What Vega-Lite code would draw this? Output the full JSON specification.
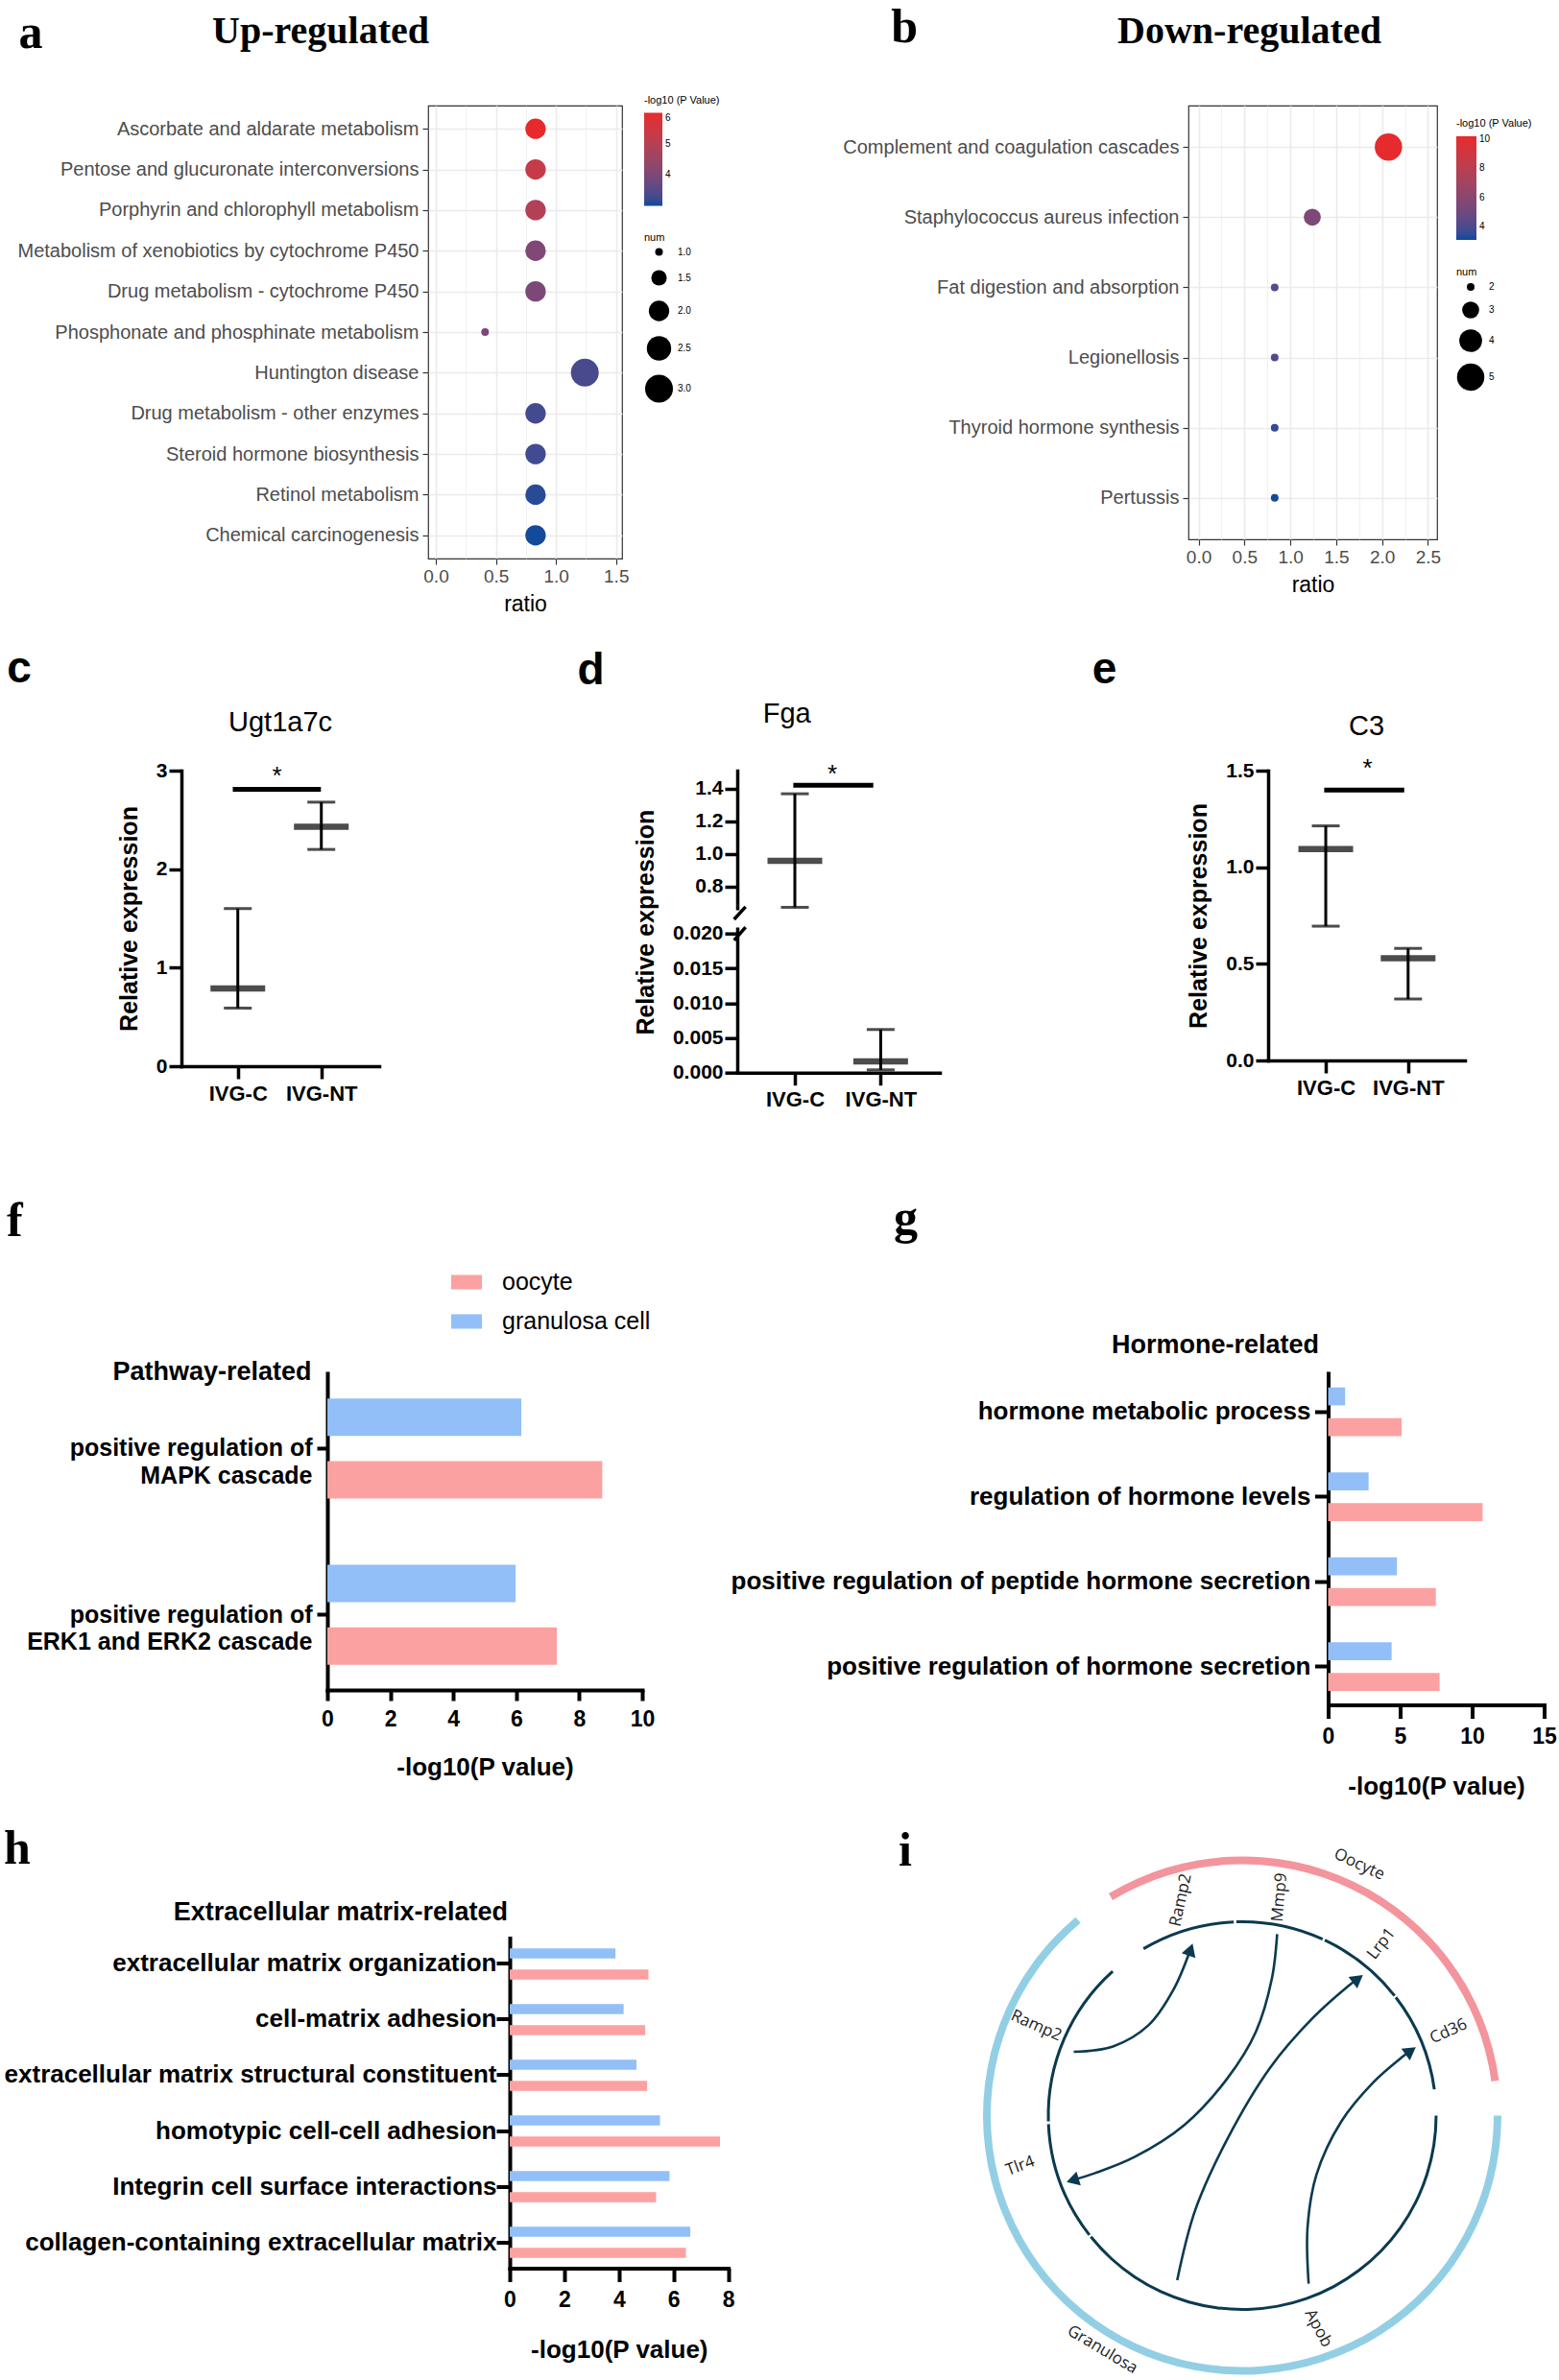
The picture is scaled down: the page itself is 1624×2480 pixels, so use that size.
{
"$schema":"https://vega.github.io/schema/vega-lite/v6.json",
"background":"white",
"padding":{"left":0,"top":4,"right":2,"bottom":0},
"config":{
 "font":"Liberation Sans",
 "view":{"stroke":null},
 "axis":{"domainColor":"black","domainWidth":3.5,"domainCap":"square","tickColor":"black","tickWidth":3.5,"tickSize":13,"labelColor":"black","labelFont":"Liberation Sans","labelFontWeight":"bold","labelFontSize":21,"labelPadding":3,"labelFlush":false,"labelOverlap":false,"labelLimit":1000,"titleColor":"black","titleFont":"Liberation Sans","titleFontWeight":"bold","titleFontSize":25,"grid":false},
 "title":{"color":"black","font":"Liberation Sans","fontWeight":"normal"},
 "legend":{"labelFont":"Liberation Sans","titleFont":"Liberation Sans","labelColor":"black","titleColor":"black","labelLimit":1000}
},
"resolve":{"scale":{"color":"independent","size":"independent","yOffset":"independent","theta":"independent","radius":"independent","angle":"independent"},"legend":{"color":"independent","size":"independent"}},
"spacing":88,
"align":"none",
"vconcat":[
{"spacing":32,"align":"none",
 "resolve":{"scale":{"color":"independent","size":"independent","yOffset":"independent","theta":"independent","radius":"independent","angle":"independent"},"legend":{"color":"independent","size":"independent"}},
 "vconcat":[
 {"spacing":0,"resolve":{"scale":{"color":"independent","size":"independent"},"legend":{"color":"independent","size":"independent"}},
  "hconcat":[
  {"width":17,"height":1,"data":{"values":[{}]},"mark":{"type":"point","opacity":0,"size":0,"strokeWidth":0}},
  {"spacing":127,"resolve":{"scale":{"color":"independent","size":"independent"},"legend":{"color":"independent","size":"independent"}},
   "hconcat":[
  {"title":{"text":"a","font":"Liberation Serif","fontSize":50,"fontWeight":"bold","anchor":"start","frame":"bounds","dx":2,"dy":48,"offset":0},
   "vconcat":[
   {"width":202,"height":472,"view":{"stroke":"#333333","strokeWidth":1.2},
    "title":{"text":"Up-regulated","font":"Liberation Serif","fontSize":40,"fontWeight":"bold","frame":"group","anchor":"middle","dx":-213,"offset":57},
    "data":{"values":[
     {"term":"Ascorbate and aldarate metabolism","ratio":0.83,"num":2,"logp":6.0},
     {"term":"Pentose and glucuronate interconversions","ratio":0.83,"num":2,"logp":5.3},
     {"term":"Porphyrin and chlorophyll metabolism","ratio":0.83,"num":2,"logp":4.95},
     {"term":"Metabolism of xenobiotics by cytochrome P450","ratio":0.83,"num":2,"logp":4.05},
     {"term":"Drug metabolism - cytochrome P450","ratio":0.83,"num":2,"logp":4.0},
     {"term":"Phosphonate and phosphinate metabolism","ratio":0.41,"num":1,"logp":3.95},
     {"term":"Huntington disease","ratio":1.24,"num":3,"logp":3.35},
     {"term":"Drug metabolism - other enzymes","ratio":0.83,"num":2,"logp":3.3},
     {"term":"Steroid hormone biosynthesis","ratio":0.83,"num":2,"logp":3.28},
     {"term":"Retinol metabolism","ratio":0.83,"num":2,"logp":3.1},
     {"term":"Chemical carcinogenesis","ratio":0.83,"num":2,"logp":3.02}
    ]},
    "mark":{"type":"circle","opacity":1},
    "encoding":{
     "x":{"field":"ratio","type":"quantitative","scale":{"domain":[-0.064,1.55],"nice":false,"zero":false},
      "axis":{"values":[0,0.25,0.5,0.75,1,1.25,1.5],"tickCount":20,"labelExpr":"datum.value % 0.5 == 0 ? format(datum.value, '.1f') : ''","domain":false,"grid":true,"gridColor":"#ebebeb","gridWidth":{"condition":{"test":"datum.value % 0.5 == 0","value":1.6},"value":0.7},"tickColor":"#333333","tickWidth":{"condition":{"test":"datum.value % 0.5 == 0","value":1.2},"value":0},"tickSize":6,"labelColor":"#4d4d4d","labelFontWeight":"normal","labelFontSize":19,"labelPadding":3,"title":"ratio","titleFontWeight":"normal","titleFontSize":23,"titlePadding":8}},
     "y":{"field":"term","type":"nominal","sort":null,"scale":{"type":"point","padding":0.57},
      "axis":{"domain":false,"grid":true,"gridColor":"#ebebeb","gridWidth":1.6,"tickColor":"#333333","tickWidth":1.2,"tickSize":6,"labelColor":"#4d4d4d","labelFontWeight":"normal","labelFontSize":20,"labelPadding":4,"title":null}},
     "color":{"field":"logp","type":"quantitative","scale":{"domain":[3,6],"range":["#0b4a9b","#e8292c"],"interpolate":"lab"},
      "legend":{"title":"-log10 (P Value)","orient":"none","legendX":225,"legendY":-11.5,"direction":"vertical","values":[4,5,6],"gradientLength":97,"gradientThickness":19,"gradientStrokeWidth":0,"titleFontSize":11,"titleFontWeight":"normal","labelFontSize":10,"titlePadding":8,"labelOffset":3}},
     "size":{"field":"num","type":"quantitative","scale":{"domain":[1,3],"range":[64,841]},
      "legend":{"title":"num","orient":"none","legendX":225,"legendY":131.5,"values":[1,1.5,2,2.5,3],"format":".1f","titleFontSize":11,"titleFontWeight":"normal","labelFontSize":10,"rowPadding":8,
       "encode":{"symbols":{"update":{"size":{"signal":"pow(3 + 9.5*sqrt((datum.value-1)/2), 2)"},"fill":{"value":"black"},"opacity":{"value":1},"strokeWidth":{"value":0}}}}}}
    }}
  ]},
  {"title":{"text":"b","font":"Liberation Serif","fontSize":50,"fontWeight":"bold","anchor":"start","frame":"bounds","dx":51,"dy":42,"offset":0},
   "vconcat":[
   {"width":259,"height":452,"view":{"stroke":"#333333","strokeWidth":1.2},
    "title":{"text":"Down-regulated","font":"Liberation Serif","fontSize":40,"fontWeight":"bold","frame":"group","anchor":"middle","dx":-66,"offset":57},
    "data":{"values":[
     {"term":"Complement and coagulation cascades","ratio":2.07,"num":5,"logp":10.1},
     {"term":"Staphylococcus aureus infection","ratio":1.24,"num":3,"logp":5.5},
     {"term":"Fat digestion and absorption","ratio":0.83,"num":2,"logp":4.3},
     {"term":"Legionellosis","ratio":0.83,"num":2,"logp":4.1},
     {"term":"Thyroid hormone synthesis","ratio":0.83,"num":2,"logp":3.5},
     {"term":"Pertussis","ratio":0.83,"num":2,"logp":3.15}
    ]},
    "mark":{"type":"circle","opacity":1},
    "encoding":{
     "x":{"field":"ratio","type":"quantitative","scale":{"domain":[-0.11,2.6],"nice":false,"zero":false},
      "axis":{"values":[0,0.25,0.5,0.75,1,1.25,1.5,1.75,2,2.25,2.5],"tickCount":20,"labelExpr":"datum.value % 0.5 == 0 ? format(datum.value, '.1f') : ''","domain":false,"grid":true,"gridColor":"#ebebeb","gridWidth":{"condition":{"test":"datum.value % 0.5 == 0","value":1.6},"value":0.7},"tickColor":"#333333","tickWidth":{"condition":{"test":"datum.value % 0.5 == 0","value":1.2},"value":0},"tickSize":6,"labelColor":"#4d4d4d","labelFontWeight":"normal","labelFontSize":19,"labelPadding":3,"title":"ratio","titleFontWeight":"normal","titleFontSize":23,"titlePadding":8}},
     "y":{"field":"term","type":"nominal","sort":null,"scale":{"type":"point","padding":0.59},
      "axis":{"domain":false,"grid":true,"gridColor":"#ebebeb","gridWidth":1.6,"tickColor":"#333333","tickWidth":1.2,"tickSize":6,"labelColor":"#4d4d4d","labelFontWeight":"normal","labelFontSize":20,"labelPadding":4,"title":null}},
     "color":{"field":"logp","type":"quantitative","scale":{"domain":[3.1,10.2],"range":["#0b4a9b","#e8292c"],"interpolate":"lab"},
      "legend":{"title":"-log10 (P Value)","orient":"none","legendX":279,"legendY":13,"direction":"vertical","values":[4,6,8,10],"gradientLength":108,"gradientThickness":21,"gradientStrokeWidth":0,"titleFontSize":11,"titleFontWeight":"normal","labelFontSize":10,"titlePadding":8,"labelOffset":3}},
     "size":{"field":"num","type":"quantitative","scale":{"domain":[2,5],"range":[64,812]},
      "legend":{"title":"num","orient":"none","legendX":279,"legendY":168,"values":[2,3,4,5],"format":"d","titleFontSize":11,"titleFontWeight":"normal","labelFontSize":10,"rowPadding":5,
       "encode":{"symbols":{"update":{"size":{"signal":"pow(5 + 13*sqrt((datum.value-2)/3), 2)"},"fill":{"value":"black"},"opacity":{"value":1},"strokeWidth":{"value":0}}}}}}
    }}
  ]}
 ]}]},
 {"spacing":0,"hconcat":[
  {"width":6.24,"height":1,"data":{"values":[{}]},"mark":{"type":"point","opacity":0,"size":0,"strokeWidth":0}},
  {"spacing":206,"hconcat":[
  {"title":{"text":"c","font":"Liberation Sans Narrow, Liberation Sans","fontSize":46,"fontWeight":"bold","anchor":"start","frame":"bounds","dx":-115,"dy":-18,"offset":0},
   "vconcat":[
   {"width":206,"height":308,
    "title":{"text":"Ugt1a7c","fontSize":29,"fontWeight":"normal","frame":"group","anchor":"middle","offset":24},
    "layer":[
     {"data":{"values":[{"pos":1,"mean":0.79,"lo":0.59,"hi":1.6},{"pos":2,"mean":2.43,"lo":2.2,"hi":2.68}]},
      "layer":[
       {"mark":{"type":"rule","strokeWidth":3,"color":"black"},
        "encoding":{"x":{"field":"pos","type":"quantitative","title":null,"scale":{"domain":[0.325,2.693],"nice":false,"zero":false},"axis":{"values":[1,2],"tickCount":10,"labelExpr":"datum.value == 1 ? 'IVG-C' : 'IVG-NT'","labelFontSize":22,"labelPadding":5,"labelOverlap":false,"title":null}},
         "y":{"field":"lo","type":"quantitative","title":"Relative expression","scale":{"domain":[0,3],"nice":false,"zero":false},"axis":{"values":[0,1,2,3],"tickCount":10,"format":"d","labelOverlap":false,"labelPadding":2,"titlePadding":15}},
         "y2":{"field":"hi"}}},
       {"mark":{"type":"tick","orient":"horizontal","size":29,"thickness":3,"color":"black"},
        "encoding":{"x":{"field":"pos","type":"quantitative","title":null,"scale":{"domain":[0.325,2.693],"nice":false,"zero":false}},"y":{"field":"lo","type":"quantitative","title":"Relative expression","scale":{"domain":[0,3],"nice":false,"zero":false}}}},
       {"mark":{"type":"tick","orient":"horizontal","size":29,"thickness":3,"color":"black"},
        "encoding":{"x":{"field":"pos","type":"quantitative","title":null,"scale":{"domain":[0.325,2.693],"nice":false,"zero":false}},"y":{"field":"hi","type":"quantitative","title":"Relative expression","scale":{"domain":[0,3],"nice":false,"zero":false}}}},
       {"mark":{"type":"tick","orient":"horizontal","size":57,"thickness":6.5,"color":"black"},
        "encoding":{"x":{"field":"pos","type":"quantitative","title":null,"scale":{"domain":[0.325,2.693],"nice":false,"zero":false}},"y":{"field":"mean","type":"quantitative","title":"Relative expression","scale":{"domain":[0,3],"nice":false,"zero":false}}}}
      ]},
     {"data":{"values":[{"x1":0.94,"x2":1.995,"ys":2.81,"xs":1.47,"yst":3.0}]},
      "layer":[
       {"mark":{"type":"rule","strokeWidth":5,"color":"black"},
        "encoding":{"x":{"field":"x1","type":"quantitative","title":null,"scale":{"domain":[0.325,2.693],"nice":false,"zero":false}},"x2":{"field":"x2"},"y":{"field":"ys","type":"quantitative","title":"Relative expression","scale":{"domain":[0,3],"nice":false,"zero":false}}}},
       {"mark":{"type":"text","text":"*","fontSize":26,"baseline":"middle","dy":6,"color":"black"},
        "encoding":{"x":{"field":"xs","type":"quantitative","title":null,"scale":{"domain":[0.325,2.693],"nice":false,"zero":false}},"y":{"field":"yst","type":"quantitative","title":"Relative expression","scale":{"domain":[0,3],"nice":false,"zero":false}}}}
      ]}
    ]}
  ]},
  {"spacing":158,"hconcat":[
   {"title":{"text":"d","font":"Liberation Sans Narrow, Liberation Sans","fontSize":46,"fontWeight":"bold","anchor":"start","frame":"bounds","dx":-59,"dy":-7,"offset":0},
    "vconcat":[
    {"title":{"text":"Fga","fontSize":29,"fontWeight":"normal","anchor":"middle","offset":35},
     "spacing":20.7,"bounds":"flush",
     "vconcat":[
      {"width":211,"height":143.3,
       "layer":[
        {"data":{"values":[{"pos":1,"mean":0.957,"lo":0.672,"hi":1.368}]},
         "layer":[
          {"mark":{"type":"rule","strokeWidth":3,"color":"black"},
           "encoding":{"x":{"field":"pos","type":"quantitative","title":null,"scale":{"domain":[0.329,2.689],"nice":false,"zero":false},"axis":null},
            "y":{"field":"lo","type":"quantitative","title":null,"scale":{"domain":[0.667,1.51],"nice":false,"zero":false},"axis":{"values":[0.8,1.0,1.2,1.4],"tickCount":10,"format":".1f","labelOverlap":false,"labelPadding":2,"title":null}},
            "y2":{"field":"hi"}}},
          {"mark":{"type":"tick","orient":"horizontal","size":29,"thickness":3,"color":"black"},
           "encoding":{"x":{"field":"pos","type":"quantitative","title":null,"scale":{"domain":[0.329,2.689],"nice":false,"zero":false}},"y":{"field":"lo","type":"quantitative","title":null,"scale":{"domain":[0.667,1.51],"nice":false,"zero":false}}}},
          {"mark":{"type":"tick","orient":"horizontal","size":29,"thickness":3,"color":"black"},
           "encoding":{"x":{"field":"pos","type":"quantitative","title":null,"scale":{"domain":[0.329,2.689],"nice":false,"zero":false}},"y":{"field":"hi","type":"quantitative","title":null,"scale":{"domain":[0.667,1.51],"nice":false,"zero":false}}}},
          {"mark":{"type":"tick","orient":"horizontal","size":57,"thickness":6.5,"color":"black"},
           "encoding":{"x":{"field":"pos","type":"quantitative","title":null,"scale":{"domain":[0.329,2.689],"nice":false,"zero":false}},"y":{"field":"mean","type":"quantitative","title":null,"scale":{"domain":[0.667,1.51],"nice":false,"zero":false}}}}
         ]},
        {"data":{"values":[{"x1":0.982,"x2":1.914,"ys":1.42,"xs":1.436,"yst":1.52}]},
         "layer":[
          {"mark":{"type":"rule","strokeWidth":5,"color":"black"},
           "encoding":{"x":{"field":"x1","type":"quantitative","title":null,"scale":{"domain":[0.329,2.689],"nice":false,"zero":false}},"x2":{"field":"x2"},"y":{"field":"ys","type":"quantitative","title":null,"scale":{"domain":[0.667,1.51],"nice":false,"zero":false}}}},
          {"mark":{"type":"text","text":"*","fontSize":26,"baseline":"middle","dy":6,"color":"black"},
           "encoding":{"x":{"field":"xs","type":"quantitative","title":null,"scale":{"domain":[0.329,2.689],"nice":false,"zero":false}},"y":{"field":"yst","type":"quantitative","title":null,"scale":{"domain":[0.667,1.51],"nice":false,"zero":false}}}}
         ]},
        {"data":{"values":[{"sx1":0.292,"sx2":0.426,"sy1":0.598,"sy2":0.675},{"sx1":0.292,"sx2":0.426,"sy1":0.469,"sy2":0.551}]},
         "mark":{"type":"rule","strokeWidth":3.5,"color":"black"},
         "encoding":{"x":{"field":"sx1","type":"quantitative","title":null,"scale":{"domain":[0.329,2.689],"nice":false,"zero":false}},"x2":{"field":"sx2"},"y":{"field":"sy1","type":"quantitative","title":null,"scale":{"domain":[0.667,1.51],"nice":false,"zero":false}},"y2":{"field":"sy2"}}}
       ]},
      {"width":211,"height":150,
       "data":{"values":[{"pos":2,"mean":0.0016,"lo":0.0004,"hi":0.0062}]},
       "layer":[
          {"mark":{"type":"rule","strokeWidth":3,"color":"black"},
           "encoding":{"x":{"field":"pos","type":"quantitative","title":null,"scale":{"domain":[0.329,2.689],"nice":false,"zero":false},"axis":{"values":[1,2],"tickCount":10,"labelExpr":"datum.value == 1 ? 'IVG-C' : 'IVG-NT'","labelFontSize":22,"labelPadding":5,"labelOverlap":false,"title":null}},
            "y":{"field":"lo","type":"quantitative","title":"Relative expression","scale":{"domain":[0,0.0207],"nice":false,"zero":false},"axis":{"values":[0,0.005,0.01,0.015,0.02],"tickCount":10,"format":".3f","labelOverlap":false,"labelPadding":2,"titlePadding":15,"titleY":-7}},
            "y2":{"field":"hi"}}},
          {"mark":{"type":"tick","orient":"horizontal","size":29,"thickness":3,"color":"black"},
           "encoding":{"x":{"field":"pos","type":"quantitative","title":null,"scale":{"domain":[0.329,2.689],"nice":false,"zero":false}},"y":{"field":"lo","type":"quantitative","title":"Relative expression","scale":{"domain":[0,0.0207],"nice":false,"zero":false}}}},
          {"mark":{"type":"tick","orient":"horizontal","size":29,"thickness":3,"color":"black"},
           "encoding":{"x":{"field":"pos","type":"quantitative","title":null,"scale":{"domain":[0.329,2.689],"nice":false,"zero":false}},"y":{"field":"hi","type":"quantitative","title":"Relative expression","scale":{"domain":[0,0.0207],"nice":false,"zero":false}}}},
          {"mark":{"type":"tick","orient":"horizontal","size":57,"thickness":6.5,"color":"black"},
           "encoding":{"x":{"field":"pos","type":"quantitative","title":null,"scale":{"domain":[0.329,2.689],"nice":false,"zero":false}},"y":{"field":"mean","type":"quantitative","title":"Relative expression","scale":{"domain":[0,0.0207],"nice":false,"zero":false}}}}
       ]}
     ]}
   ]},
   {"title":{"text":"e","font":"Liberation Sans Narrow, Liberation Sans","fontSize":46,"fontWeight":"bold","anchor":"start","frame":"bounds","dx":-99,"dy":-21,"offset":0},
    "vconcat":[
    {"width":205,"height":302,
     "title":{"text":"C3","fontSize":29,"fontWeight":"normal","frame":"group","anchor":"middle","offset":16},
     "layer":[
      {"data":{"values":[{"pos":1,"mean":1.094,"lo":0.695,"hi":1.214},{"pos":2,"mean":0.529,"lo":0.318,"hi":0.58}]},
       "layer":[
        {"mark":{"type":"rule","strokeWidth":3,"color":"black"},
         "encoding":{"x":{"field":"pos","type":"quantitative","title":null,"scale":{"domain":[0.3,2.69],"nice":false,"zero":false},"axis":{"values":[1,2],"tickCount":10,"labelExpr":"datum.value == 1 ? 'IVG-C' : 'IVG-NT'","labelFontSize":22,"labelPadding":5,"labelOverlap":false,"title":null}},
          "y":{"field":"lo","type":"quantitative","title":"Relative expression","scale":{"domain":[0,1.5],"nice":false,"zero":false},"axis":{"values":[0,0.5,1,1.5],"tickCount":10,"format":".1f","labelOverlap":false,"labelPadding":2,"titlePadding":15}},
          "y2":{"field":"hi"}}},
        {"mark":{"type":"tick","orient":"horizontal","size":29,"thickness":3,"color":"black"},
         "encoding":{"x":{"field":"pos","type":"quantitative","title":null,"scale":{"domain":[0.3,2.69],"nice":false,"zero":false}},"y":{"field":"lo","type":"quantitative","title":"Relative expression","scale":{"domain":[0,1.5],"nice":false,"zero":false}}}},
        {"mark":{"type":"tick","orient":"horizontal","size":29,"thickness":3,"color":"black"},
         "encoding":{"x":{"field":"pos","type":"quantitative","title":null,"scale":{"domain":[0.3,2.69],"nice":false,"zero":false}},"y":{"field":"hi","type":"quantitative","title":"Relative expression","scale":{"domain":[0,1.5],"nice":false,"zero":false}}}},
        {"mark":{"type":"tick","orient":"horizontal","size":57,"thickness":6.5,"color":"black"},
         "encoding":{"x":{"field":"pos","type":"quantitative","title":null,"scale":{"domain":[0.3,2.69],"nice":false,"zero":false}},"y":{"field":"mean","type":"quantitative","title":"Relative expression","scale":{"domain":[0,1.5],"nice":false,"zero":false}}}}
       ]},
      {"data":{"values":[{"x1":0.981,"x2":1.953,"ys":1.40,"xs":1.507,"yst":1.54}]},
       "layer":[
        {"mark":{"type":"rule","strokeWidth":5,"color":"black"},
         "encoding":{"x":{"field":"x1","type":"quantitative","title":null,"scale":{"domain":[0.3,2.69],"nice":false,"zero":false}},"x2":{"field":"x2"},"y":{"field":"ys","type":"quantitative","title":"Relative expression","scale":{"domain":[0,1.5],"nice":false,"zero":false}}}},
        {"mark":{"type":"text","text":"*","fontSize":26,"baseline":"middle","dy":6,"color":"black"},
         "encoding":{"x":{"field":"xs","type":"quantitative","title":null,"scale":{"domain":[0.3,2.69],"nice":false,"zero":false}},"y":{"field":"yst","type":"quantitative","title":"Relative expression","scale":{"domain":[0,1.5],"nice":false,"zero":false}}}}
       ]}
     ]}
   ]}
  ]}
 ]}]}
]},
{"spacing":26.5,"align":"none",
 "resolve":{"scale":{"color":"independent","size":"independent","yOffset":"independent","theta":"independent","radius":"independent","angle":"independent"},"legend":{"color":"independent","size":"independent"}},
 "vconcat":[
 {"spacing":0,"resolve":{"scale":{"color":"independent","yOffset":"independent"},"legend":{"color":"independent"}},
  "hconcat":[
  {"width":6.24,"height":1,"data":{"values":[{}]},"mark":{"type":"point","opacity":0,"size":0,"strokeWidth":0}},
  {"spacing":78.5,"resolve":{"scale":{"color":"independent","yOffset":"independent"},"legend":{"color":"independent"}},
   "hconcat":[
  {"title":{"text":"f","font":"Liberation Serif","fontSize":50,"fontWeight":"bold","anchor":"start","frame":"bounds","dx":-20.6,"dy":-22,"offset":0},
   "vconcat":[
   {"width":328,"height":330,
    "data":{"values":[
     {"term":"positive regulation of\nMAPK cascade","cell":"granulosa cell","v":6.16},
     {"term":"positive regulation of\nMAPK cascade","cell":"oocyte","v":8.73},
     {"term":"positive regulation of\nERK1 and ERK2 cascade","cell":"granulosa cell","v":5.98},
     {"term":"positive regulation of\nERK1 and ERK2 cascade","cell":"oocyte","v":7.29}
    ]},
    "mark":{"type":"bar"},
    "encoding":{
     "y":{"field":"term","type":"nominal","sort":null,"scale":{"paddingInner":0.2475,"paddingOuter":0.076},
      "axis":{"domainWidth":4,"tickWidth":4,"tickSize":11,"labelFontSize":25,"labelPadding":5,"labelLineHeight":28.6,"labelExpr":"split(datum.label, '\\n')","title":"Pathway-related","titleAngle":0,"titleAlign":"right","titleBaseline":"middle","titleX":-17,"titleY":-2,"titleFontSize":27}},
     "yOffset":{"field":"cell","type":"nominal","scale":{"domain":["granulosa cell","oocyte"],"paddingInner":0.4,"paddingOuter":0.2}},
     "x":{"field":"v","type":"quantitative","scale":{"domain":[0,10],"nice":false},
      "axis":{"values":[0,2,4,6,8,10],"tickCount":20,"format":"d","domainWidth":4,"tickWidth":4,"tickSize":11,"labelFontSize":23,"labelPadding":8,"title":"-log10(P value)","titleFontSize":26,"titlePadding":25}},
     "color":{"field":"cell","type":"nominal","scale":{"domain":["oocyte","granulosa cell"],"range":["#fca1a1","#92bff8"]},
      "legend":{"title":null,"orient":"none","legendX":129,"legendY":-111,"symbolType":"M-1,-0.47H1V0.47H-1Z","symbolSize":1024,"symbolStrokeWidth":0,"labelFontSize":25,"labelOffset":21,"rowPadding":12}}
    }}
  ]},
  {"title":{"text":"g","font":"Liberation Serif","fontSize":50,"fontWeight":"bold","anchor":"start","frame":"bounds","dx":170,"dy":-92,"offset":0},
   "vconcat":[
   {"width":225,"height":345.6,
    "data":{"values":[
     {"term":"hormone metabolic process","cell":"granulosa cell","v":1.18},
     {"term":"hormone metabolic process","cell":"oocyte","v":5.11},
     {"term":"regulation of hormone levels","cell":"granulosa cell","v":2.81},
     {"term":"regulation of hormone levels","cell":"oocyte","v":10.73},
     {"term":"positive regulation of peptide hormone secretion","cell":"granulosa cell","v":4.78},
     {"term":"positive regulation of peptide hormone secretion","cell":"oocyte","v":7.48},
     {"term":"positive regulation of hormone secretion","cell":"granulosa cell","v":4.41},
     {"term":"positive regulation of hormone secretion","cell":"oocyte","v":7.74}
    ]},
    "mark":{"type":"bar"},
    "encoding":{
     "y":{"field":"term","type":"nominal","sort":null,"scale":{"paddingInner":0.277,"paddingOuter":0.091},
      "axis":{"domainWidth":4,"tickWidth":4,"tickSize":14,"labelFontSize":26,"labelPadding":4.6,"title":"Hormone-related","titleAngle":0,"titleAlign":"right","titleBaseline":"middle","titleX":-10,"titleY":-30,"titleFontSize":27}},
     "yOffset":{"field":"cell","type":"nominal","scale":{"domain":["granulosa cell","oocyte"],"paddingInner":0.416,"paddingOuter":0.208}},
     "x":{"field":"v","type":"quantitative","scale":{"domain":[0,15],"nice":false},
      "axis":{"values":[0,5,10,15],"tickCount":20,"format":"d","domainWidth":4,"tickWidth":4,"tickSize":14,"labelFontSize":23,"labelPadding":8,"title":"-log10(P value)","titleFontSize":26,"titlePadding":27}},
     "color":{"field":"cell","type":"nominal","scale":{"domain":["oocyte","granulosa cell"],"range":["#fca1a1","#92bff8"]},"legend":null}
    }}
  ]}
 ]}]},
 {"spacing":0,"resolve":{"scale":{"color":"independent","yOffset":"independent"},"legend":{"color":"independent"}},
  "hconcat":[
  {"width":3.24,"height":1,"data":{"values":[{}]},"mark":{"type":"point","opacity":0,"size":0,"strokeWidth":0}},
  {"spacing":171,"resolve":{"scale":{"color":"independent","yOffset":"independent"},"legend":{"color":"independent"}},
   "hconcat":[
  {"title":{"text":"h","font":"Liberation Serif","fontSize":50,"fontWeight":"bold","anchor":"start","frame":"bounds","dx":0,"dy":-27,"offset":0},
   "vconcat":[
   {"width":227.6,"height":344,
    "data":{"values":[
     {"term":"extracellular matrix organization","cell":"granulosa cell","v":3.87},
     {"term":"extracellular matrix organization","cell":"oocyte","v":5.08},
     {"term":"cell-matrix adhesion","cell":"granulosa cell","v":4.17},
     {"term":"cell-matrix adhesion","cell":"oocyte","v":4.96},
     {"term":"extracellular matrix structural constituent","cell":"granulosa cell","v":4.64},
     {"term":"extracellular matrix structural constituent","cell":"oocyte","v":5.03},
     {"term":"homotypic cell-cell adhesion","cell":"granulosa cell","v":5.5},
     {"term":"homotypic cell-cell adhesion","cell":"oocyte","v":7.7},
     {"term":"Integrin cell surface interactions","cell":"granulosa cell","v":5.85},
     {"term":"Integrin cell surface interactions","cell":"oocyte","v":5.36},
     {"term":"collagen-containing extracellular matrix","cell":"granulosa cell","v":6.61},
     {"term":"collagen-containing extracellular matrix","cell":"oocyte","v":6.45}
    ]},
    "mark":{"type":"bar"},
    "encoding":{
     "y":{"field":"term","type":"nominal","sort":null,"scale":{"paddingInner":0.241,"paddingOuter":0.086},
      "axis":{"domainWidth":4,"tickWidth":4,"tickSize":14,"labelFontSize":26,"labelPadding":0,"title":"Extracellular matrix-related","titleAngle":0,"titleAlign":"right","titleBaseline":"middle","titleX":-2.5,"titleY":-27,"titleFontSize":27}},
     "yOffset":{"field":"cell","type":"nominal","scale":{"domain":["granulosa cell","oocyte"],"paddingInner":0.52,"paddingOuter":0.26}},
     "x":{"field":"v","type":"quantitative","scale":{"domain":[0,8],"nice":false},
      "axis":{"values":[0,2,4,6,8],"tickCount":20,"format":"d","domainWidth":4,"tickWidth":4,"tickSize":14,"labelFontSize":23,"labelPadding":8,"title":"-log10(P value)","titleFontSize":26,"titlePadding":27}},
     "color":{"field":"cell","type":"nominal","scale":{"domain":["oocyte","granulosa cell"],"range":["#fca1a1","#92bff8"]},"legend":null}
    }}
  ]},
  {"title":{"text":"i","font":"Liberation Serif","fontSize":50,"fontWeight":"bold","anchor":"start","frame":"bounds","dx":-88,"dy":31,"offset":0},
   "vconcat":[
   {"width":540,"height":370,
    "layer":[
     {"data":{"values":[{"seg":"Oocyte","t0":329,"t1":442.2,"r0":262,"r1":270},{"seg":"Granulosa","t0":90,"t1":320,"r0":262,"r1":270}]},
      "mark":{"type":"arc"},
      "encoding":{
       "theta":{"field":"t0","type":"quantitative","stack":null,"scale":{"type":"linear","domain":[0,360],"range":[0,6.283185307179586]}},
       "theta2":{"field":"t1"},
       "radius":{"field":"r1","type":"quantitative","scale":{"type":"linear","domain":[0,270],"range":[0,270],"zero":true}},
       "radius2":{"field":"r0"},
       "color":{"field":"seg","type":"nominal","scale":{"domain":["Oocyte","Granulosa"],"range":["#f4949c","#93cfe4"]},"legend":null}}},
     {"data":{"values":[{"t0":329.4,"t1":357.5,"r0":200.5,"r1":203.5},{"t0":358.3,"t1":384.5,"r0":200.5,"r1":203.5},{"t0":385.2,"t1":411.8,"r0":200.5,"r1":203.5},{"t0":412.4,"t1":442.2,"r0":200.5,"r1":203.5},{"t0":450,"t1":591.3,"r0":200.5,"r1":203.5},{"t0":592,"t1":627.5,"r0":200.5,"r1":203.5},{"t0":628.3,"t1":678.1,"r0":200.5,"r1":203.5}]},
      "mark":{"type":"arc","color":"#0b3a50"},
      "encoding":{
       "theta":{"field":"t0","type":"quantitative","stack":null,"scale":{"type":"linear","domain":[0,360],"range":[0,6.283185307179586]}},
       "theta2":{"field":"t1"},
       "radius":{"field":"r1","type":"quantitative","scale":{"type":"linear","domain":[0,270],"range":[0,270],"zero":true}},
       "radius2":{"field":"r0"}}},
     {"data":{"values":[
       {"id":1,"s":0,"u":-175.5,"v":-66.5},{"id":1,"s":1,"u":-134.6,"v":-72.1},{"id":1,"s":2,"u":-97.4,"v":-94.4},{"id":1,"s":3,"u":-71.4,"v":-131.6},{"id":1,"s":4,"u":-55,"v":-170},
       {"id":2,"s":0,"u":36.4,"v":-189.2},{"id":2,"s":1,"u":30.9,"v":-142.7},{"id":2,"s":2,"u":14.1,"v":-87},{"id":2,"s":3,"u":-15.6,"v":-38.6},{"id":2,"s":4,"u":-60.2,"v":9.7},{"id":2,"s":5,"u":-112.3,"v":43.2},{"id":2,"s":6,"u":-153.2,"v":59.9},{"id":2,"s":7,"u":-175,"v":66.8},
       {"id":3,"s":0,"u":-67.7,"v":171.4},{"id":3,"s":1,"u":-49.1,"v":98.9},{"id":3,"s":2,"u":-15.6,"v":24.6},{"id":3,"s":3,"u":29,"v":-49.8},{"id":3,"s":4,"u":73.6,"v":-101.8},{"id":3,"s":5,"u":110.8,"v":-135.3},{"id":3,"s":6,"u":119,"v":-141.5},
       {"id":4,"s":0,"u":69.2,"v":175.1},{"id":4,"s":1,"u":68,"v":117.5},{"id":4,"s":2,"u":77.3,"v":61.7},{"id":4,"s":3,"u":103.3,"v":6},{"id":4,"s":4,"u":136.8,"v":-34.9},{"id":4,"s":5,"u":166.5,"v":-60.9},{"id":4,"s":6,"u":174,"v":-66.5}
      ]},
      "mark":{"type":"line","interpolate":"catmull-rom","strokeWidth":2.6,"color":"#0b3a50"},
      "encoding":{
       "x":{"field":"u","type":"quantitative","scale":{"domain":[-270,270],"nice":false,"zero":false},"axis":null},
       "y":{"field":"v","type":"quantitative","scale":{"domain":[-185,185],"nice":false,"zero":false,"reverse":true},"axis":null},
       "detail":{"field":"id","type":"nominal"},
       "order":{"field":"s","type":"quantitative"}}},
     {"data":{"values":[{"u":-53.8,"v":-173,"ang":19},{"u":-176.7,"v":67.3,"ang":253},{"u":120.5,"v":-142.5,"ang":53},{"u":175.5,"v":-67.4,"ang":54}]},
      "mark":{"type":"point","shape":"triangle-up","filled":true,"size":230,"color":"#0b3a50","opacity":1},
      "encoding":{
       "x":{"field":"u","type":"quantitative","scale":{"domain":[-270,270],"nice":false,"zero":false},"axis":null},
       "y":{"field":"v","type":"quantitative","scale":{"domain":[-185,185],"nice":false,"zero":false,"reverse":true},"axis":null},
       "angle":{"field":"ang","type":"quantitative","scale":null}}},
     {"data":{"values":[
       {"t":"Oocyte","u":121.9,"v":-261.7,"a":25},
       {"t":"Granulosa","u":-145.7,"v":243.9,"a":31},
       {"t":"Ramp2","u":-63.9,"v":-224.5,"a":-78},
       {"t":"Mmp9","u":39,"v":-227.5,"a":-85},
       {"t":"Lrp1","u":145,"v":-179.1,"a":-52},
       {"t":"Cd36","u":214.9,"v":-87.7,"a":-24},
       {"t":"Ramp2","u":-214.5,"v":-93.6,"a":24},
       {"t":"Tlr4","u":-231.2,"v":52.5,"a":-20},
       {"t":"Apob","u":79.2,"v":221.6,"a":62}
      ]},
      "mark":{"type":"text","font":"Open Sans","fontSize":17,"color":"#222222","align":"center","baseline":"middle"},
      "encoding":{
       "x":{"field":"u","type":"quantitative","scale":{"domain":[-270,270],"nice":false,"zero":false},"axis":null},
       "y":{"field":"v","type":"quantitative","scale":{"domain":[-185,185],"nice":false,"zero":false,"reverse":true},"axis":null},
       "text":{"field":"t","type":"nominal"},
       "angle":{"field":"a","type":"quantitative","scale":null}}}
    ]}
  ]}
 ]}]}
]}
]
}
